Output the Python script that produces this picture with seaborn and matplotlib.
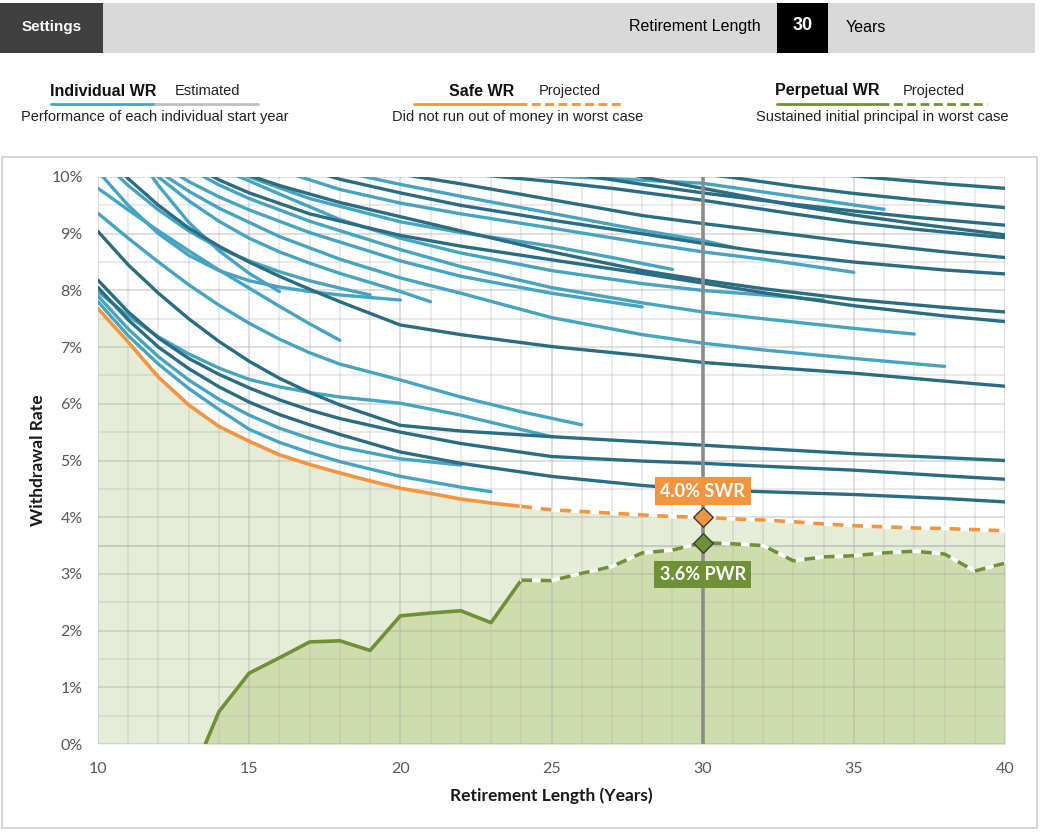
import numpy as np
import pandas as pd
import seaborn as sns
import matplotlib.pyplot as plt
from matplotlib.lines import Line2D
from matplotlib.patches import Rectangle

sns.set_style('white')
plt.rcParams['font.family'] = ['Lato', 'DejaVu Sans']

W, H = 1040, 833

# safe and perpetual withdrawal rates (%) by retirement length
swr_years = list(range(10, 41))
swr_rates = [7.68, 7.09, 6.47, 5.98, 5.60, 5.34, 5.10, 4.93, 4.78, 4.64,
             4.51, 4.42, 4.32, 4.25, 4.19, 4.13, 4.10, 4.07, 4.04, 4.01,
             4.00, 3.97, 3.95, 3.92, 3.88, 3.85, 3.83, 3.81, 3.80, 3.78, 3.76]
pwr_years = [13.55] + list(range(14, 41))
pwr_rates = [0.0, 0.57, 1.25, 1.52, 1.80, 1.82, 1.65, 2.26, 2.31, 2.35, 2.14,
             2.89, 2.88, 3.01, 3.13, 3.37, 3.42, 3.55, 3.53, 3.50, 3.23,
             3.30, 3.32, 3.37, 3.40, 3.35, 3.05, 3.19]
projected_from = 24

# individual start-year lines
Y18 = [10, 11, 12, 13, 14, 15, 16, 17, 18, 20, 22, 25, 28, 30, 32, 35, 38, 40]
line_years = [
    [10, 11, 12, 13, 14, 15, 16, 17, 18, 20, 22, 23],
    [10, 11, 12, 13, 14, 15, 16, 17, 18, 20, 22],
    Y18,
    Y18,
    Y18,
    [10, 11, 12, 13, 14, 15, 16, 17, 18, 20, 22, 25],
    [10, 11, 12, 13, 14, 15, 16, 17, 18, 20, 22, 24, 26],
    Y18,
    [10, 11, 12, 13, 14, 15, 16, 17, 18],
    [11, 12, 13, 14, 15, 16],
    [10, 11, 12, 13, 14, 15, 16, 17, 18, 19],
    [10, 11, 12, 13, 14, 15, 16, 17, 18, 20],
    [11, 12, 13, 14, 15, 16, 17, 18, 20, 21],
    [12, 13, 14, 16, 18, 20, 22, 25, 28, 30, 32, 35, 38],
    [12, 13, 14, 15, 17, 20, 22, 25, 28],
    [13, 14, 15, 17, 20, 22, 25, 28, 30, 32, 35, 37],
    [14, 15, 16, 18, 20, 22, 25, 28, 30, 32, 34],
    [14, 15, 17, 20, 22, 25, 27, 29],
    [13, 14, 15, 17, 20, 22, 25, 28, 30, 32, 35, 38, 40],
    [14, 15, 16, 18, 20, 22, 25, 28, 30, 32, 35, 38, 40],
    [16, 17, 18, 20, 22, 25, 28, 30, 32, 35],
    [17, 18, 20, 22, 25, 28, 30, 32, 35, 38, 40],
    [18, 20, 22, 25, 28, 30, 31],
    [20, 22, 25, 28, 30, 32, 35, 38, 40],
    [21, 23, 25, 27, 30, 33, 35, 37, 40],
    [21, 24, 27, 30, 33, 36],
    [25, 26.4, 28, 30, 33, 35, 37, 40],
    [27, 28, 30, 33, 35, 37, 40],
    [29, 31, 33, 35, 37, 40],
    [33, 35, 36, 38, 40],
]
line_rates = [
    [7.80, 7.20, 6.70, 6.27, 5.90, 5.55, 5.32, 5.14, 4.98, 4.72, 4.53, 4.45],
    [7.90, 7.32, 6.83, 6.42, 6.08, 5.80, 5.57, 5.39, 5.24, 5.03, 4.92],
    [8.05, 7.48, 7.00, 6.62, 6.30, 6.03, 5.81, 5.63, 5.46, 5.15, 4.95, 4.72, 4.56, 4.48, 4.45, 4.40, 4.33, 4.27],
    [8.18, 7.62, 7.16, 6.80, 6.52, 6.28, 6.07, 5.89, 5.74, 5.50, 5.30, 5.07, 4.99, 4.95, 4.90, 4.83, 4.73, 4.67],
    [9.04, 8.45, 7.95, 7.50, 7.10, 6.75, 6.45, 6.20, 5.98, 5.62, 5.52, 5.42, 5.33, 5.27, 5.21, 5.12, 5.05, 5.00],
    [7.98, 7.55, 7.18, 6.88, 6.63, 6.43, 6.30, 6.20, 6.12, 6.01, 5.80, 5.42],
    [9.36, 8.92, 8.50, 8.10, 7.74, 7.42, 7.14, 6.90, 6.70, 6.42, 6.12, 5.86, 5.63],
    [10.55, 9.97, 9.50, 9.10, 8.78, 8.50, 8.25, 8.02, 7.80, 7.39, 7.22, 7.01, 6.85, 6.73, 6.65, 6.54, 6.40, 6.31],
    [9.80, 9.42, 9.05, 8.70, 8.36, 8.04, 7.72, 7.41, 7.12],
    [10.60, 9.85, 9.20, 8.70, 8.30, 7.98],
    [10.35, 9.85, 9.42, 9.05, 8.75, 8.52, 8.33, 8.17, 8.04, 7.92],
    [10.10, 9.50, 9.00, 8.62, 8.35, 8.17, 8.06, 7.98, 7.92, 7.83],
    [10.50, 10.00, 9.58, 9.22, 8.92, 8.68, 8.48, 8.30, 7.98, 7.80],
    [10.10, 9.75, 9.45, 8.95, 8.55, 8.22, 7.95, 7.52, 7.22, 7.07, 6.95, 6.80, 6.66],
    [10.25, 9.92, 9.65, 9.42, 9.02, 8.52, 8.25, 7.95, 7.71],
    [10.15, 9.86, 9.62, 9.22, 8.72, 8.42, 8.05, 7.78, 7.62, 7.50, 7.33, 7.23],
    [10.15, 9.93, 9.70, 9.25, 8.92, 8.66, 8.35, 8.12, 8.00, 7.92, 7.83],
    [10.25, 10.00, 9.62, 9.21, 9.02, 8.78, 8.58, 8.37],
    [10.25, 9.95, 9.72, 9.35, 8.97, 8.78, 8.54, 8.30, 8.13, 7.96, 7.73, 7.55, 7.45],
    [10.25, 10.03, 9.85, 9.55, 9.30, 9.05, 8.68, 8.35, 8.18, 8.03, 7.84, 7.70, 7.62],
    [10.12, 9.95, 9.78, 9.54, 9.35, 9.10, 8.84, 8.68, 8.55, 8.32],
    [10.12, 9.96, 9.72, 9.50, 9.24, 9.00, 8.83, 8.68, 8.50, 8.36, 8.29],
    [10.10, 9.87, 9.66, 9.36, 9.06, 8.88, 8.76],
    [10.05, 9.88, 9.60, 9.32, 9.18, 9.05, 8.85, 8.68, 8.58],
    [10.12, 10.02, 9.92, 9.80, 9.59, 9.35, 9.20, 9.08, 8.93],
    [10.10, 10.04, 9.97, 9.89, 9.66, 9.43],
    [10.12, 10.00, 9.87, 9.72, 9.52, 9.40, 9.29, 9.15],
    [10.12, 10.00, 9.80, 9.50, 9.33, 9.18, 8.98],
    [10.12, 9.99, 9.84, 9.71, 9.60, 9.46],
    [10.12, 10.02, 9.97, 9.88, 9.80],
]
line_shade = ['light', 'light', 'dark', 'dark', 'dark', 'light', 'light', 'dark',
              'light', 'light', 'light', 'light', 'light', 'light', 'light', 'light',
              'light', 'light', 'dark', 'dark', 'light', 'dark', 'light', 'dark',
              'dark', 'light', 'dark', 'dark', 'dark', 'dark']

rows = []
for i, (xs, ys) in enumerate(zip(line_years, line_rates)):
    for x, y in zip(xs, ys):
        rows.append({'line': i, 'year': x, 'rate': y, 'shade': line_shade[i]})
df = pd.DataFrame(rows)

DARK = '#2a6d82'
LIGHT = '#45a4c2'
ORANGE = '#f39440'
GREEN = '#6f9135'
FILL_LIGHT = '#e5edd6'
FILL_DARK = '#cfdcad'


def fx(px):
    return px / W


def fy(py):
    return 1 - py / H


fig = plt.figure(figsize=(W / 100, H / 100), dpi=100)

# header bar
fig.add_artist(Rectangle((0, fy(53)), fx(1035), 50 / H, transform=fig.transFigure,
                         fc='#d9d9d9', ec='none'))
fig.add_artist(Rectangle((0, fy(53)), fx(103), 50 / H, transform=fig.transFigure,
                         fc='#404040', ec='none'))
fig.add_artist(Rectangle((fx(777), fy(53)), fx(51), 50 / H, transform=fig.transFigure,
                         fc='#000000', ec='none'))
hfont = ['Liberation Sans', 'DejaVu Sans']
fig.text(fx(52), fy(27), 'Settings', color='white', fontsize=11, fontweight='bold',
         ha='center', va='center', family=hfont)
fig.text(fx(695), fy(27), 'Retirement Length', color='#000000', fontsize=11.5,
         ha='center', va='center', family=hfont)
fig.text(fx(803), fy(26), '30', color='white', fontsize=13, fontweight='bold',
         ha='center', va='center', family=hfont)
fig.text(fx(866), fy(27), 'Years', color='#000000', fontsize=11.5,
         ha='center', va='center', family=hfont)

# legend row
def seg(x0, x1, color, dashed=False):
    ls = (0, (3.2, 1.6)) if dashed else '-'
    fig.add_artist(Line2D([fx(x0), fx(x1)], [fy(104), fy(104)], transform=fig.transFigure,
                          color=color, lw=2, linestyle=ls))

seg(51, 155, LIGHT)
seg(155, 258, '#bfbfbf')
seg(414, 518, ORANGE)
seg(518, 622, ORANGE, dashed=True)
seg(777, 880, GREEN)
seg(880, 987, GREEN, dashed=True)

for x, s in [(103, 'Individual WR'), (482, 'Safe WR'), (827, 'Perpetual WR')]:
    fig.text(fx(x), fy(91), s, fontsize=11.5, ha='center', va='center', color='#111111',
             family=hfont, fontweight='bold')
for x, s in [(208, 'Estimated'), (570, 'Projected'), (934, 'Projected')]:
    fig.text(fx(x), fy(91), s, fontsize=10.5, ha='center', va='center', color='#222222',
             family=hfont)
for x, s in [(155, 'Performance of each individual start year'),
             (518, 'Did not run out of money in worst case'),
             (882, 'Sustained initial principal in worst case')]:
    fig.text(fx(x), fy(117), s, fontsize=10.5, ha='center', va='center', color='#222222',
             family=hfont)

# chart panel border
fig.add_artist(Rectangle((fx(2), fy(828)), fx(1035), 671 / H, transform=fig.transFigure,
                         fill=False, ec='#d0d0d0', lw=1.2))

ax = fig.add_axes([fx(98), fy(744), fx(1005 - 98), (744 - 177) / H])
ax.fill_between(swr_years, 0, swr_rates, color=FILL_LIGHT, lw=0, zorder=0.2)
ax.fill_between(pwr_years, 0, pwr_rates, color=FILL_DARK, lw=0, zorder=0.3)

sns.lineplot(data=df, x='year', y='rate', units='line', estimator=None, hue='shade',
             palette={'dark': DARK, 'light': LIGHT}, linewidth=2.4, sort=False,
             legend=False, ax=ax, zorder=2)

k = swr_years.index(projected_from)
ax.plot(swr_years[:k + 1], swr_rates[:k + 1], color=ORANGE, lw=2.6, zorder=3)
ax.plot(swr_years[k:], swr_rates[k:], color='white', lw=2.6, zorder=3)
ax.plot(swr_years[k:], swr_rates[k:], color=ORANGE, lw=2.6, zorder=3.1,
        linestyle=(0, (3, 2.4)))
k = pwr_years.index(projected_from)
ax.plot(pwr_years[:k + 1], pwr_rates[:k + 1], color=GREEN, lw=2.6, zorder=3)
ax.plot(pwr_years[k:], pwr_rates[k:], color='white', lw=2.6, zorder=3)
ax.plot(pwr_years[k:], pwr_rates[k:], color=GREEN, lw=2.6, zorder=3.1,
        linestyle=(0, (3, 2.4)))

ax.axhline(3.5, color='#b0b0b0', lw=1.3, alpha=0.45, zorder=0.6)
ax.axvline(30, color='#8c8c8c', lw=2.6, zorder=4)

sel = 30
swr_sel = swr_rates[swr_years.index(sel)]
pwr_sel = pwr_rates[pwr_years.index(sel)]
ax.scatter([sel], [swr_sel], marker='D', s=100, color=ORANGE, edgecolor='#3a3a3a',
           linewidth=1, zorder=6)
ax.scatter([sel], [pwr_sel], marker='D', s=100, color=GREEN, edgecolor='#3a3a3a',
           linewidth=1, zorder=6)
ax.text(sel, swr_sel + 0.46, f'{swr_sel:.1f}% SWR', ha='center', va='center',
        color='white', fontsize=13, fontweight='bold', zorder=7,
        bbox=dict(boxstyle='square,pad=0.3', fc=ORANGE, ec='none'))
ax.text(sel, pwr_sel - 0.56, f'{pwr_sel + 0.05:.1f}% PWR', ha='center', va='center',
        color='white', fontsize=13, fontweight='bold', zorder=7,
        bbox=dict(boxstyle='square,pad=0.3', fc=GREEN, ec='none'))

ax.set_xlim(10, 40)
ax.set_ylim(0, 10)
ax.set_xticks(range(10, 41, 5))
ax.set_xticks(range(10, 41), minor=True)
ax.set_yticks(range(0, 11))
ax.set_yticklabels([f'{v}%' for v in range(0, 11)])
ax.set_yticks(np.arange(0, 10.01, 0.5), minor=True)
ax.grid(True, which='minor', color='#b4b4b4', alpha=0.33, lw=1.2)
ax.grid(True, which='major', color='#a8a8a8', alpha=0.4, lw=1.3)
ax.set_axisbelow(True)
for s in ax.spines.values():
    s.set_visible(False)
ax.tick_params(axis='both', which='both', length=7, color='#d8d8d8', width=1,
               labelcolor='#595959', labelsize=11.5, pad=4)
ax.tick_params(axis='x', pad=6)
ax.set_xlabel('Retirement Length (Years)', fontsize=12.5, fontweight='bold',
              color='#1a1a1a', labelpad=8)
ax.set_ylabel('Withdrawal Rate', fontsize=12.5, fontweight='bold', color='#1a1a1a',
              labelpad=4)

fig.savefig('out.png', dpi=100)
